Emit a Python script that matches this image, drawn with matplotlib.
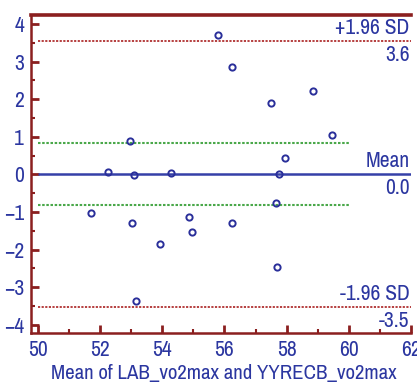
import matplotlib
matplotlib.use("Agg")
import matplotlib.pyplot as plt
from matplotlib.ticker import MultipleLocator

plt.rcParams['font.family'] = ['Archivo Narrow', 'DejaVu Sans']

# Data (mean of the two methods, difference)
mean_vals = [55.78, 52.96, 56.26, 57.51, 58.86, 59.45, 57.96, 52.26, 53.09, 54.29,
             51.70, 53.03, 53.92, 54.87, 54.95, 53.15, 57.77, 57.66, 56.24, 57.70]
diff_vals = [3.72, 0.89, 2.85, 1.90, 2.22, 1.06, 0.43, 0.07, -0.01, 0.03,
             -1.04, -1.29, -1.86, -1.13, -1.53, -3.37, 0.01, -0.76, -1.29, -2.46]

mean_diff = 0.01
upper_loa = 3.56
lower_loa = -3.53
green_upper = 0.84
green_lower = -0.82

x_ticks = [50, 52, 54, 56, 58, 60, 62]
y_ticks = [-4, -3, -2, -1, 0, 1, 2, 3, 4]
x_label = "Mean of LAB_vo2max and YYRECB_vo2max"
upper_label = ("+1.96 SD", "3.6")
mean_label = ("Mean", "0.0")
lower_label = ("-1.96 SD", "-3.5")

spine_c = '#8b1f1f'
text_c = '#2b36a0'
red_c = '#b03030'
green_c = '#4aa84a'
blue_c = '#3540a8'

fig = plt.figure(figsize=(4.17, 3.92), dpi=100)
ax = fig.add_axes([0.0743, 0.1505, 0.9113, 0.812])

ax.set_xlim(49.78, 62.0)
ax.set_ylim(-4.22, 4.25)

ax.hlines(upper_loa, 50, 62, colors=red_c, linestyles=(0, (1.2, 0.8)), lw=1.3, zorder=2)
ax.hlines(lower_loa, 50, 62, colors=red_c, linestyles=(0, (1.2, 0.8)), lw=1.3, zorder=2)
ax.hlines(green_upper, 50, 60, colors=green_c, linestyles=(0, (1.2, 0.8)), lw=1.5, zorder=2)
ax.hlines(green_lower, 50, 60, colors=green_c, linestyles=(0, (1.2, 0.8)), lw=1.5, zorder=2)
ax.hlines(mean_diff, 50, 62, colors=blue_c, linestyles='solid', lw=1.8, zorder=2)

ax.plot(mean_vals, diff_vals, linestyle='none', marker='o', ms=4.5,
        mfc='none', mec='#2a2f9a', mew=1.4, zorder=3)

fs_lab = 15.5
for yv, (top, bot) in [(upper_loa, upper_label), (mean_diff, mean_label), (lower_loa, lower_label)]:
    ax.annotate(top, (61.95, yv), xytext=(0, 7), textcoords='offset pixels',
                ha='right', va='baseline', color=text_c, fontsize=fs_lab)
    ax.annotate(bot, (61.95, yv), xytext=(0, -4), textcoords='offset pixels',
                ha='right', va='top', color=text_c, fontsize=fs_lab)

ax.set_xticks(x_ticks)
ax.set_yticks(y_ticks)
ax.xaxis.set_minor_locator(MultipleLocator(1))
ax.yaxis.set_minor_locator(MultipleLocator(0.5))
ax.tick_params(which='major', direction='in', length=6, width=2, color=spine_c,
               labelsize=15.5, labelcolor=text_c, pad=5)
ax.tick_params(which='minor', direction='in', length=3, width=1.5, color=spine_c)
ax.tick_params(axis='x', which='both', top=False)
ax.tick_params(axis='y', which='both', right=False)

ax.spines['right'].set_visible(False)
for s, w in [('left', 1.8), ('bottom', 1.8), ('top', 2.6)]:
    ax.spines[s].set_color(spine_c)
    ax.spines[s].set_linewidth(w)

ax.set_xlabel(x_label, color=text_c, fontsize=15)
ax.xaxis.set_label_coords(0.508, -0.098)

fig.savefig('out.png', dpi=100)
